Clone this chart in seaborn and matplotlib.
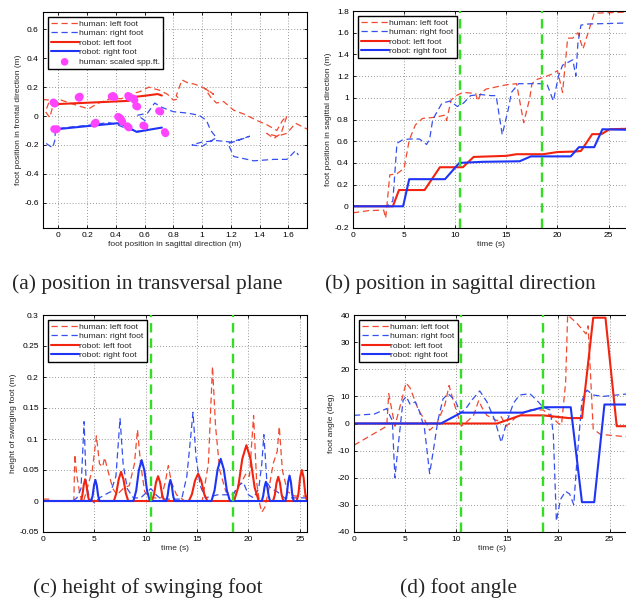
import numpy as np
import pandas as pd
import matplotlib
matplotlib.use("Agg")
import matplotlib.pyplot as plt
import seaborn as sns
from matplotlib.ticker import FuncFormatter, MultipleLocator

sns.set_theme(style="ticks")
plt.rcParams['font.family'] = ['Liberation Sans', 'DejaVu Sans']
plt.rcParams['font.size'] = 6
plt.rcParams['xtick.direction'] = 'in'
plt.rcParams['ytick.direction'] = 'in'
plt.rcParams['xtick.top'] = True
plt.rcParams['ytick.right'] = True
plt.rcParams['xtick.major.size'] = 2.5
plt.rcParams['ytick.major.size'] = 2.5
plt.rcParams['axes.unicode_minus'] = False

RED = '#f2230f'
BLUE = '#1f35f5'
H_RED = '#f04a30'
H_BLUE = '#3550ee'
MAGENTA = '#ff44ff'
GREEN = '#33dd22'

labels = ["human: left foot", "human: right foot", "robot: left foot", "robot: right foot"]
spp_label = "human: scaled spp.ft."
phase_lines = [10.5, 18.5]

# ---- (a) transversal plane
a_hl_x = [-0.11, -0.06, -0.09, -0.06, -0.03, 0.02, 0.08, 0.14, 0.21, 0.28, 0.36, 0.44, 0.5, 0.57,
          0.63, 0.66, 0.7, 0.76, 0.8, 0.84, 0.82, 0.86, 0.9, 0.95, 1.0, 1.04, 1.08, 1.02, 1.06,
          1.1, 1.15, 1.22, 1.3, 1.38, 1.45, 1.52, 1.56, 1.59, 1.55, 1.5, 1.45, 1.52, 1.59, 1.65, 1.73]
a_hl_y = [0.115, 0.11, 0.03, -0.01, 0.1, 0.11, 0.09, 0.07, 0.05, 0.09, 0.12, 0.12, 0.15, 0.17,
          0.2, 0.19, 0.18, 0.15, 0.11, 0.12, 0.14, 0.25, 0.23, 0.22, 0.2, 0.18, 0.15, 0.19, 0.13,
          0.09, 0.1, 0.04, 0.01, -0.03, -0.06, -0.1, -0.03, 0.0, -0.12, -0.155, -0.12, -0.14, -0.12, -0.05, -0.09]
a_hr_x = [-0.085, -0.04, -0.025, -0.02, 0.05, 0.2, 0.35, 0.41, 0.48, 0.55, 0.62, 0.6, 0.55, 0.62,
          0.67, 0.72, 0.8, 0.9, 0.98, 1.03, 1.06, 1.1, 1.0, 0.93, 1.0, 1.1, 1.2, 1.27, 1.33, 1.25,
          1.18, 1.22, 1.36, 1.5, 1.59, 1.65, 1.67]
a_hr_y = [-0.19, -0.22, -0.17, -0.09, -0.08, -0.065, -0.045, -0.06, -0.09, -0.105, -0.1, -0.03,
          0.005, 0.02, 0.09, 0.06, 0.03, 0.02, 0.005, -0.03, -0.1, -0.15, -0.21, -0.2, -0.18,
          -0.17, -0.18, -0.16, -0.14, -0.17, -0.19, -0.28, -0.31, -0.3, -0.3, -0.24, -0.27]
a_rl_x = [0.0, 0.2, 0.49, 0.49, 0.6, 0.69, 0.72]
a_rl_y = [0.083, 0.092, 0.105, 0.128, 0.14, 0.152, 0.142]
a_rr_x = [0.0, 0.2, 0.41, 0.45, 0.545, 0.6, 0.72]
a_rr_y = [-0.09, -0.07, -0.05, -0.06, -0.11, -0.1, -0.08]
spp_x = [-0.03, -0.035, -0.025, -0.03, -0.02, -0.01, 0.14, 0.15, 0.145, 0.255, 0.26, 0.25,
         0.37, 0.38, 0.39, 0.415, 0.425, 0.435, 0.44, 0.445, 0.485, 0.49, 0.51, 0.48, 0.49,
         0.525, 0.53, 0.54, 0.55, 0.59, 0.6, 0.70, 0.71, 0.74, 0.745]
spp_y = [0.088, 0.095, 0.085, -0.09, -0.095, -0.09, 0.13, 0.135, 0.125, -0.05, -0.045, -0.055,
         0.135, 0.14, 0.13, -0.005, -0.01, -0.02, -0.03, -0.04, 0.14, 0.13, 0.125, -0.07, -0.08,
         0.12, 0.11, 0.07, 0.065, -0.065, -0.07, 0.035, 0.03, -0.11, -0.12]

# ---- (b) sagittal position vs time
b_hl_t = [0, 1.5, 3.0, 3.2, 3.6, 4.3, 5.0, 5.5, 6.1, 6.8, 8.0, 9.0, 9.15, 9.6, 10.1, 10.75, 12.0,
          12.2, 12.5, 13.0, 14.0, 15.0, 16.0, 16.7, 17.3, 17.5, 18.0, 18.7, 19.5, 20.0, 20.5,
          21.0, 21.5, 22.0, 22.5, 23.0, 23.6, 27]
b_hl_y = [-0.06, -0.04, -0.035, -0.11, 0.29, 0.30, 0.35, 0.61, 0.75, 0.81, 0.82, 0.84, 0.79, 0.98,
          1.02, 1.05, 1.04, 0.97, 1.04, 1.08, 1.10, 1.12, 1.13, 0.77, 1.0, 1.13, 1.17, 1.19, 1.22,
          1.25, 1.05, 1.55, 1.55, 1.60, 1.45, 1.6, 1.78, 1.79]
b_hr_t = [0, 3.2, 3.6, 3.9, 4.3, 4.8, 5.5, 6.5, 7.2, 7.5, 7.8, 8.7, 9.5, 10.2, 10.8, 11.5, 12.5,
          13.5, 14.0, 14.6, 15.2, 15.5, 16.2, 17.0, 18.5, 19.0, 19.6, 20.1, 20.5, 21.5, 21.8,
          22.0, 22.3, 23.0, 27]
b_hr_y = [0, 0, 0.02, 0.05, 0.58, 0.61, 0.62, 0.62, 0.57, 0.62, 0.80, 0.95, 0.97, 0.92, 0.95,
          1.02, 1.03, 1.02, 1.02, 0.66, 0.9, 1.05, 1.13, 1.13, 1.13, 1.12, 0.97, 1.2, 1.3, 1.35,
          1.2, 1.5, 1.67, 1.68, 1.69]
b_rl_t = [0, 3.9, 4.5, 7.0, 8.5, 10.75, 11.8, 15.0, 16.0, 18.6, 20.0, 21.8, 22.3, 23.4, 24.3, 25.1, 27]
b_rl_y = [0, 0, 0.15, 0.15, 0.36, 0.36, 0.455, 0.465, 0.48, 0.48, 0.50, 0.505, 0.51, 0.665,
          0.665, 0.71, 0.715]
b_rr_t = [0, 4.9, 5.5, 9.0, 10.4, 12.7, 16.3, 17.4, 21.3, 22.1, 23.6, 24.4, 27]
b_rr_y = [0, 0, 0.25, 0.25, 0.40, 0.41, 0.415, 0.46, 0.46, 0.545, 0.545, 0.71, 0.705]

# ---- (c) height of swinging foot
c_hl_t = [0, 0.8, 1.0, 3.0, 3.1, 3.3, 3.6, 3.9, 4.3, 4.8, 5.2, 5.5, 5.8, 6.0, 6.3, 6.8, 7.2, 7.8,
          8.4, 8.9, 9.2, 9.5, 9.9, 10.5, 11.5, 11.9, 12.2, 12.5, 13.0, 13.8, 15.5, 16.1, 16.5,
          16.8, 17.2, 17.8, 18.5, 19.3, 19.8, 20.1, 20.5, 20.8, 21.1, 21.3, 21.6, 22.0, 22.4,
          22.8, 23.0, 23.3, 23.8, 24.5, 25.7]
c_hl_y = [0.003, 0.003, 0, 0, 0.075, 0.04, 0.01, -0.003, 0.02, 0.05, 0.105, 0.06, 0.055, 0.07,
          0.05, 0.02, 0.01, 0.02, 0.025, 0.06, 0.115, 0.06, 0.015, 0.005, 0.005, 0.03, 0.057,
          0.03, 0.01, 0, 0, 0.06, 0.217, 0.12, 0.05, 0.015, 0.01, 0.03, 0.045, 0.04, 0.138, 0.03,
          -0.005, -0.018, -0.01, 0.02, 0.06, 0.08, 0.12, 0.05, 0.015, 0.008, 0.008]
c_hr_t = [0, 2.9, 3.3, 3.7, 4.0, 4.2, 4.5, 5.0, 5.5, 6.0, 6.6, 7.1, 7.5, 7.8, 8.2, 8.8, 9.5,
          10.5, 11.0, 11.5, 13.5, 14.0, 14.3, 14.6, 14.9, 15.3, 15.8, 17.0, 18.5, 19.0, 19.5,
          20.0, 20.5, 21.0, 21.3, 21.5, 21.8, 22.2, 22.8, 23.5, 25.7]
c_hr_y = [0, 0, 0.005, 0.02, 0.128, 0.03, 0.005, -0.003, 0.005, 0.01, 0.015, 0.04, 0.133, 0.06,
          0.02, 0.005, 0.005, 0.02, 0.01, 0.003, 0.003, 0.04, 0.09, 0.143, 0.07, 0.025, 0.005,
          0.01, 0.01, 0.025, 0.03, 0.01, 0.005, 0.02, 0.06, 0.107, 0.03, 0.02, 0.015, 0.005, 0.005]
c_rl_t = [0, 3.7, 3.83, 3.97, 4.1, 4.23, 4.37, 4.5,
          6.9, 7.13, 7.37, 7.6, 7.83, 8.07, 8.3,
          10.6, 10.8, 11.0, 11.2, 11.4, 11.6, 11.8,
          14.2, 14.5, 14.8, 15.1, 15.4, 15.7, 16.0,
          18.6, 19.0, 19.4, 19.8, 20.2, 20.6, 21.0,
          22.4, 22.57, 22.73, 22.9, 23.07, 23.23, 23.4,
          24.7, 24.87, 25.03, 25.2, 25.37, 25.53, 25.7]
c_rl_y = [0, 0, 0.009, 0.026, 0.035, 0.026, 0.009, 0,
          0, 0.012, 0.035, 0.047, 0.035, 0.012, 0,
          0, 0.01, 0.03, 0.04, 0.03, 0.01, 0,
          0, 0.011, 0.033, 0.044, 0.033, 0.011, 0,
          0, 0.022, 0.068, 0.09, 0.068, 0.022, 0,
          0, 0.01, 0.029, 0.039, 0.029, 0.01, 0,
          0, 0.012, 0.038, 0.05, 0.038, 0.012, 0]
c_rr_t = [0, 4.7, 4.83, 4.97, 5.1, 5.23, 5.37, 5.5,
          8.8, 9.07, 9.33, 9.6, 9.87, 10.13, 10.4,
          12.0, 12.13, 12.27, 12.4, 12.53, 12.67, 12.8,
          16.4, 16.7, 17.0, 17.3, 17.6, 17.9, 18.2,
          21.3, 21.43, 21.57, 21.7, 21.83, 21.97, 22.1,
          23.6, 23.73, 23.87, 24.0, 24.13, 24.27, 24.4, 25.7]
c_rr_y = [0, 0, 0.0085, 0.0255, 0.034, 0.0255, 0.0085, 0,
          0, 0.0165, 0.0495, 0.066, 0.0495, 0.0165, 0,
          0, 0.0085, 0.0255, 0.034, 0.0255, 0.0085, 0,
          0, 0.017, 0.051, 0.068, 0.051, 0.017, 0,
          0, 0.008, 0.023, 0.031, 0.023, 0.008, 0,
          0, 0.01, 0.031, 0.041, 0.031, 0.01, 0, 0]

# ---- (d) foot angle
d_hl_t = [0, 3.2, 3.4, 4.0, 5.1, 5.5, 5.8, 6.3, 6.8, 7.1, 7.4, 8.1, 8.9, 9.3, 9.7, 10.2, 10.5,
          11.0, 11.7, 12.2, 12.5, 13.0, 14.0, 14.4, 14.9, 15.9, 17.2, 18.5, 19.2, 20.0, 20.3,
          20.7, 20.9, 21.8, 22.7, 22.9, 23.4, 24.1, 27]
d_hl_y = [-8, -1, 11, -1, 15, 13, 10, 5, 2, 0, -2.5, 0, 7, 14, 8.5, 2.5, -1, 0.5, 3, 8.5, 6, 3,
          1, 2.5, -1, 2.5, 5, 5, 3, 0, -0.5, 15, 40, 37, 33, 36, -2, -4, -5]
d_hr_t = [0, 2.0, 3.2, 3.75, 4.0, 4.3, 4.8, 5.1, 5.5, 6.0, 6.4, 6.9, 7.4, 7.8, 8.2, 8.7, 9.2,
          9.9, 10.4, 10.85, 11.5, 12.3, 13.0, 13.8, 14.4, 14.9, 15.6, 16.2, 17.2, 17.9, 18.5,
          19.2, 19.5, 19.8, 20.2, 20.7, 21.1, 21.5, 21.8, 22.3, 22.8, 23.4, 24.4, 27]
d_hr_y = [3, 3.5, 5.5, 1, -20, -9, 8.5, 10, 7, 8, 4.5, -2, -18.5, -9, 1, 9, 11, 8.5, 4, 5, 8.5,
          12, 8, 1, -7, 0, 7.5, 10.5, 11, 8.5, 6, 5, -4, -36, -28, -25, -26, -30, -14, 8.5,
          12.3, 10.5, 10, 11]
d_rl_t = [0, 14.0, 16.3, 18.5, 21.0, 22.3, 23.4, 24.6, 25.7, 27]
d_rl_y = [0, 0, 3, 3, 2, 2, 39, 39, -1, -1]
d_rr_t = [0, 8.5, 10.5, 16.5, 18.5, 21.2, 22.3, 23.5, 24.5, 27]
d_rr_y = [0, 0, 4, 4, 6, 6, -29, -29, 7, 7]

W, H = 626, 600
fig = plt.figure(figsize=(W / 100, H / 100), dpi=100)


def px_axes(left, top, width, height):
    return fig.add_axes([left / W, 1 - (top + height) / H, width / W, height / H])


ax_a = px_axes(43, 12, 264, 216)
ax_b = px_axes(353, 11, 276, 217)
ax_c = px_axes(43, 315, 264, 217)
ax_d = px_axes(354, 315, 276, 217)

dash = (0, (5, 3))


def draw(ax, hl, hr, rl, rr, sort=True):
    sns.lineplot(x=hl[0], y=hl[1], color=H_RED, lw=0.9, linestyle=dash, sort=sort,
                 estimator=None, label=labels[0], ax=ax)
    sns.lineplot(x=hr[0], y=hr[1], color=H_BLUE, lw=0.9, linestyle=dash, sort=sort,
                 estimator=None, label=labels[1], ax=ax)
    sns.lineplot(x=rl[0], y=rl[1], color=RED, lw=1.5, sort=sort,
                 estimator=None, label=labels[2], ax=ax)
    sns.lineplot(x=rr[0], y=rr[1], color=BLUE, lw=1.5, sort=sort,
                 estimator=None, label=labels[3], ax=ax)


draw(ax_a, (a_hl_x, a_hl_y), (a_hr_x, a_hr_y), (a_rl_x, a_rl_y), (a_rr_x, a_rr_y), sort=False)
sns.scatterplot(x=spp_x, y=spp_y, color=MAGENTA, s=30, marker='o', edgecolor='none',
                label=spp_label, ax=ax_a, zorder=5)
draw(ax_b, (b_hl_t, b_hl_y), (b_hr_t, b_hr_y), (b_rl_t, b_rl_y), (b_rr_t, b_rr_y))
draw(ax_c, (c_hl_t, c_hl_y), (c_hr_t, c_hr_y), (c_rl_t, c_rl_y), (c_rr_t, c_rr_y))
draw(ax_d, (d_hl_t, d_hl_y), (d_hr_t, d_hr_y), (d_rl_t, d_rl_y), (d_rr_t, d_rr_y))

fmt = FuncFormatter(lambda v, p: '%g' % round(v, 6))

for ax in [ax_a, ax_b, ax_c, ax_d]:
    ax.grid(True, linestyle=(0, (1, 2.5)), color='#777777', linewidth=0.6)
    for s in ax.spines.values():
        s.set_color('black')
        s.set_linewidth(0.8)
    ax.tick_params(labelsize=6, pad=3, colors='black', width=0.6)
    ax.xaxis.set_major_formatter(fmt)
    ax.yaxis.set_major_formatter(fmt)
    leg = ax.legend(loc='upper left', fontsize=6.1, frameon=True, fancybox=False,
                    framealpha=1, edgecolor='black', handlelength=3.3, handletextpad=0.1,
                    borderpad=0.35, labelspacing=0.2, borderaxespad=0.55)
    leg.get_frame().set_linewidth(1.0)

for ax in [ax_b, ax_c, ax_d]:
    for t in phase_lines:
        ax.axvline(t, color=GREEN, lw=1.7, linestyle=(0, (4, 2.5)), zorder=4)
    ax.set_xlabel("time (s)", fontsize=6, labelpad=1)
    ax.xaxis.set_major_locator(MultipleLocator(5))

ax_a.set_xlim(-0.107, 1.73)
ax_a.set_ylim(-0.775, 0.72)
ax_a.xaxis.set_major_locator(MultipleLocator(0.2))
ax_a.yaxis.set_major_locator(MultipleLocator(0.2))
ax_a.set_xlabel("foot position in sagittal direction (m)", fontsize=6, labelpad=1)
ax_a.set_ylabel("foot position in frontal direction (m)", fontsize=6, labelpad=2)

ax_b.set_xlim(0, 27)
ax_b.set_ylim(-0.2, 1.8)
ax_b.yaxis.set_major_locator(MultipleLocator(0.2))
ax_b.set_ylabel("foot position in sagittal direction (m)", fontsize=6, labelpad=2)

ax_c.set_xlim(0, 25.7)
ax_c.set_ylim(-0.05, 0.3)
ax_c.yaxis.set_major_locator(MultipleLocator(0.05))
ax_c.set_ylabel("height of swinging foot (m)", fontsize=6, labelpad=2)

ax_d.set_xlim(0, 27)
ax_d.set_ylim(-40, 40)
ax_d.yaxis.set_major_locator(MultipleLocator(10))
ax_d.set_ylabel("foot angle (deg)", fontsize=6, labelpad=2)

cap = dict(family=['Liberation Serif', 'DejaVu Serif'], fontsize=15.4, ha='center', va='baseline')
fig.text(147 / W, 1 - 289 / H, "(a) position in transversal plane", **cap)
fig.text(460 / W, 1 - 289 / H, "(b) position in sagittal direction", **cap)
fig.text(148 / W, 1 - 593 / H, "(c) height of swinging foot", **cap)
fig.text(459 / W, 1 - 593 / H, "(d) foot angle", **cap)

fig.savefig("out.png", dpi=100)
